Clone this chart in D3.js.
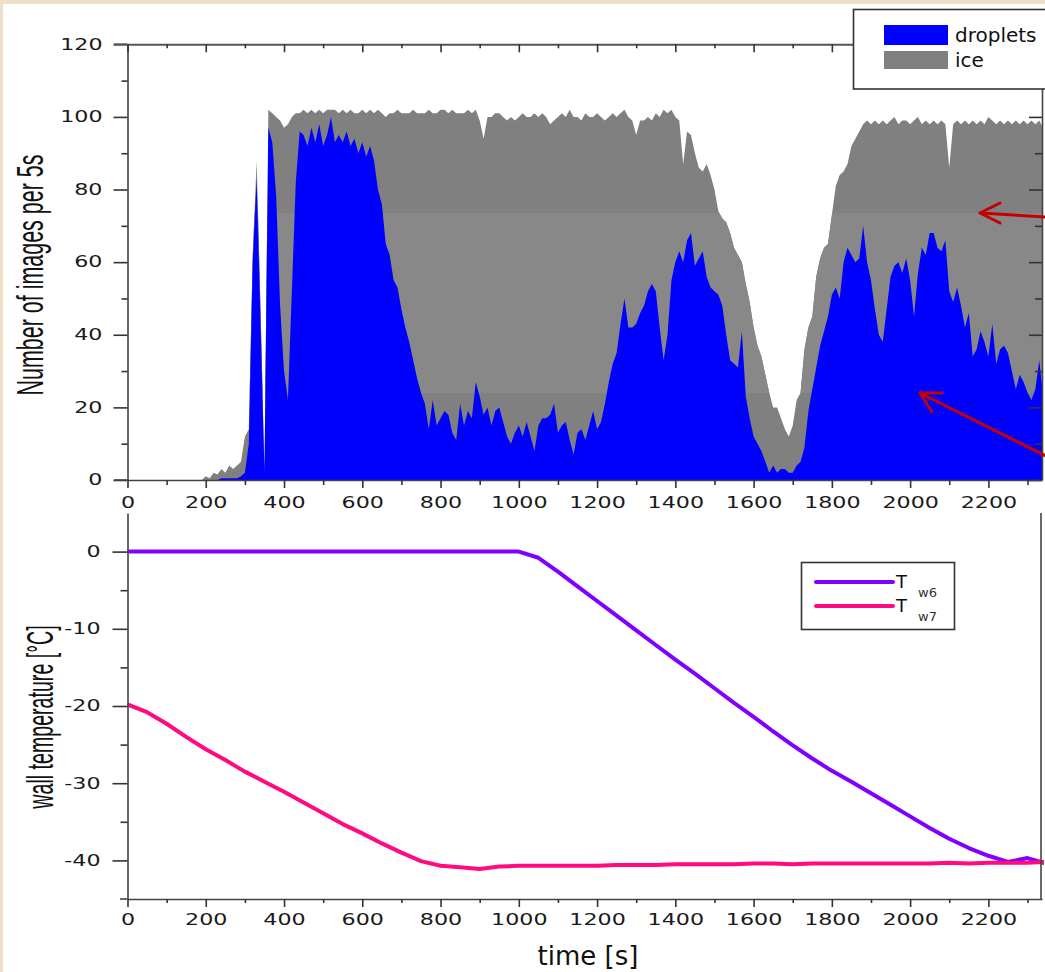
<!DOCTYPE html>
<html><head><meta charset="utf-8">
<script src="https://cdn.jsdelivr.net/npm/d3@7"></script>
<style>
html,body{margin:0;padding:0;background:#fff;}
svg{display:block;}
</style></head><body>
<svg id="c" width="1045" height="972"></svg>
<script>
// ---------------- DATA ----------------
// top panel: images per 5 s, sampled every 10 s from t = 0 s
const sampleStep = 10;
const droplets = [
  0,0,0,0,0,0,0,0,0,0,
  0,0,0,0,0,0,0,0,0,0,
  0,0,0,0,0.5,0.5,0.5,0.5,0.5,1,
  2,10,60,83,43,2,97,93,78,48,
  30,22,52,82,96,95,92,97,93,98,
  92,95,100,93,95,93,96,92,94,90,
  93,89,92,88,80,76,65,62,55,53,
  47,42,38,33,28,24,21,14,22,15,
  17,19,18,13,11,21,15,19,17,27,
  23,18,20,15,19,20,16,12,10,13,
  15,12,16,12,8,15,17,17,18,21,
  13,15,16,11,7,13,14,11,15,19,
  14,16,21,27,32,35,43,50,42,42,
  43,46,48,52,54,52,42,33,40,55,
  60,63,60,66,68,59,61,63,56,53,
  52,51,48,40,33,32,31,41,23,17,
  12,10,8,5,2,4,2,3,3,2,
  2,4,5,9,19,25,31,37,41,45,
  51,53,50,60,64,62,60,61,70,60,
  55,47,40,38,47,56,59,60,57,61,
  55,45,57,64,62,68,68,64,63,66,
  52,49,53,48,42,46,34,36,41,38,
  34,43,32,36,37,35,30,25,29,27,
  24,22,25,33,23
];
// droplets + ice (upper edge of the grey "ice" area)
const totalImages = [
  0,0,0,0,0,0,0,0,0,0,
  0,0,0,0,0,0,0,0,0,0,
  1,0.5,2,1.5,3,2,4,3,4,5,
  12,14,62,88,47,3,102,101,100,99,
  97,98,100,101,101,102,101,102,101,102,
  101,102,102,102,101,102,101,102,101,101,
  102,101,102,101,102,101,100,101,101,102,
  101,101,101,102,101,101,101,102,101,101,
  102,102,101,102,101,101,101,102,101,102,
  99,94,100,100,101,101,100,99,100,99,
  100,101,100,100,101,100,101,100,98,99,
  100,101,100,102,100,100,99,101,100,100,
  101,100,99,100,101,100,101,102,100,99,
  95,99,99,100,99,101,100,102,101,102,
  100,99,87,96,95,90,86,85,87,84,
  80,74,72,71,68,64,62,60,54,49,
  42,37,34,29,24,20,20,17,14,12,
  15,22,24,36,42,45,56,61,64,65,
  73,81,84,85,87,92,94,96,98,99,
  98,99,98,99,98,99,100,98,99,99,
  98,99,100,98,99,98,99,98,99,98,
  86,98,99,98,99,98,99,98,99,98,
  100,99,98,99,98,99,98,99,98,99,
  98,99,98,99,97
];
const seriesNames = ["droplets", "ice"];

// bottom panel: wall temperatures
const tempTimes = [0,50,100,150,200,250,300,350,400,450,500,550,600,650,700,750,800,850,900,950,
  1000,1050,1100,1150,1200,1250,1300,1350,1400,1450,1500,1550,1600,1650,1700,1750,1800,1850,1900,1950,
  2000,2050,2100,2150,2200,2250,2300,2340];
const tw6 = [0,0,0,0,0,0,0,0,0,0,0,0,0,0,0,0,0,0,0,0,
  0,-0.8,-2.6,-4.5,-6.4,-8.3,-10.2,-12.1,-14.0,-15.8,-17.7,-19.6,-21.4,-23.3,-25.1,-26.8,-28.4,-29.8,-31.3,-32.8,
  -34.3,-35.8,-37.2,-38.4,-39.4,-40.2,-39.7,-40.3];
const tw7 = [-19.8,-20.8,-22.3,-24.0,-25.6,-27.0,-28.5,-29.8,-31.1,-32.5,-33.9,-35.3,-36.5,-37.8,-39.0,-40.1,-40.7,-40.9,-41.1,-40.8,
  -40.7,-40.7,-40.7,-40.7,-40.7,-40.6,-40.6,-40.6,-40.5,-40.5,-40.5,-40.5,-40.4,-40.4,-40.5,-40.4,-40.4,-40.4,-40.4,-40.4,
  -40.4,-40.4,-40.3,-40.4,-40.3,-40.3,-40.3,-40.2];

const xMajorTicks = [0,200,400,600,800,1000,1200,1400,1600,1800,2000,2200];
const xMinorTicks = [100,300,500,700,900,1100,1300,1500,1700,1900,2100,2300];
const topYTicks = [0,20,40,60,80,100,120];
const topYMinor = [10,30,50,70,90,110];
const botYTicks = [0,-10,-20,-30,-40];
const botYMinor = [-5,-15,-25,-35];

// ---------------- DRAW ----------------
const svg = d3.select("#c");
svg.append("rect").attr("width",1045).attr("height",972).attr("fill","#ece0c8");
svg.append("rect").attr("x",3).attr("y",4).attr("width",1042).attr("height",968).attr("fill","#fff");

const x = d3.scaleLinear().domain([0,2337]).range([127.5,1042]);
const yTop = d3.scaleLinear().domain([0,120]).range([480,44.3]);
const yBot = d3.scaleLinear().domain([-45,5]).range([899,513]);
const fmt = d => String(d);

const defs = svg.append("defs");
defs.append("clipPath").attr("id","clipTop").append("rect")
  .attr("x",x.range()[0]).attr("y",yTop(120)).attr("width",x.range()[1]-x.range()[0]).attr("height",yTop(0)-yTop(120));
defs.append("clipPath").attr("id","clipBand").append("rect")
  .attr("x",x.range()[0]).attr("y",213).attr("width",x.range()[1]-x.range()[0]).attr("height",180);
defs.append("clipPath").attr("id","clipBot").append("rect")
  .attr("x",x.range()[0]).attr("y",yBot(5)).attr("width",x.range()[1]-x.range()[0]+2).attr("height",yBot(-45)-yBot(5));

const pts = droplets.map((d,i)=>({t:i*sampleStep, d:d, tot:totalImages[i]}));
const areaTot = d3.area().x(p=>x(p.t)).y0(yTop(0)).y1(p=>yTop(p.tot));
const areaDrop = d3.area().x(p=>x(p.t)).y0(yTop(0)).y1(p=>yTop(p.d));

const gTop = svg.append("g").attr("clip-path","url(#clipTop)");
gTop.append("path").attr("d",areaTot(pts)).attr("fill","#808080");
gTop.append("g").attr("clip-path","url(#clipBand)")
  .append("path").attr("d",areaTot(pts)).attr("fill","#888888");
gTop.append("path").attr("d",areaDrop(pts)).attr("fill","#0000ff");

// axis styling helper
const SX = 1.48;
function styleAxis(g, opts){
  g.attr("font-size",15).attr("font-family","DejaVu Sans");
  g.select(".domain").attr("stroke","#444").attr("stroke-width",1.6);
  g.selectAll(".tick line").attr("stroke","#333").attr("stroke-width",1.6);
  g.selectAll("text").attr("font-family","DejaVu Sans").attr("font-size",15).attr("fill","#1a1a1a");
  if(opts && opts.left){
    g.selectAll("text").attr("x", -opts.off/SX).attr("transform",`scale(${SX},1)`);
  }
  if(opts && opts.bottom){
    g.selectAll("text").attr("y", opts.off).attr("transform",`scale(${SX},1)`);
  }
}

// top panel axes
const topLeft = svg.append("g").attr("transform",`translate(${x.range()[0]},0)`)
  .call(d3.axisLeft(yTop).tickValues(topYTicks).tickFormat(fmt).tickSize(14).tickSizeOuter(0));
styleAxis(topLeft,{left:true, off:25});
const topLeftMinor = svg.append("g").attr("transform",`translate(${x.range()[0]},0)`)
  .call(d3.axisLeft(yTop).tickValues(topYMinor).tickSize(6).tickFormat(""));
styleAxis(topLeftMinor); topLeftMinor.select(".domain").remove();

const topRight = svg.append("g").attr("transform",`translate(${x.range()[1]},0)`)
  .call(d3.axisLeft(yTop).tickValues(topYTicks).tickSize(13).tickSizeOuter(0).tickFormat(""));
styleAxis(topRight);
const topRightMinor = svg.append("g").attr("transform",`translate(${x.range()[1]},0)`)
  .call(d3.axisLeft(yTop).tickValues(topYMinor).tickSize(7).tickFormat(""));
styleAxis(topRightMinor); topRightMinor.select(".domain").remove();

const topBottom = svg.append("g").attr("transform",`translate(0,${yTop(0)})`)
  .call(d3.axisBottom(x).tickValues(xMajorTicks).tickFormat(fmt).tickSize(8).tickSizeOuter(0));
styleAxis(topBottom,{bottom:true, off:17});
const topBottomMinor = svg.append("g").attr("transform",`translate(0,${yTop(0)})`)
  .call(d3.axisBottom(x).tickValues(xMinorTicks).tickSize(5).tickFormat(""));
styleAxis(topBottomMinor); topBottomMinor.select(".domain").remove();
svg.append("line").attr("x1",114).attr("x2",x.range()[0]).attr("y1",yTop(0)).attr("y2",yTop(0))
  .attr("stroke","#444").attr("stroke-width",1.6);

const topTop = svg.append("g").attr("transform",`translate(0,${yTop(120)})`)
  .call(d3.axisTop(x).tickValues(xMajorTicks).tickSize(-8).tickSizeOuter(0).tickFormat(""));
styleAxis(topTop); topTop.select(".domain").attr("stroke","#555").attr("stroke-width",2);
const topTopMinor = svg.append("g").attr("transform",`translate(0,${yTop(120)})`)
  .call(d3.axisTop(x).tickValues(xMinorTicks).tickSize(-4).tickFormat(""));
styleAxis(topTopMinor); topTopMinor.select(".domain").remove();
svg.append("line").attr("x1",114).attr("x2",x.range()[0]).attr("y1",yTop(120)).attr("y2",yTop(120))
  .attr("stroke","#555").attr("stroke-width",2);

// bottom panel lines
const gBot = svg.append("g").attr("clip-path","url(#clipBot)");
const line6 = d3.line().x((t,i)=>x(t)).y((t,i)=>yBot(tw6[i])).curve(d3.curveLinear);
const line7 = d3.line().x((t,i)=>x(t)).y((t,i)=>yBot(tw7[i])).curve(d3.curveLinear);
gBot.append("path").attr("d",line6(tempTimes)).attr("fill","none").attr("stroke","#8000ff")
  .attr("stroke-width",4).attr("stroke-linejoin","round").attr("stroke-linecap","round");
gBot.append("path").attr("d",line7(tempTimes)).attr("fill","none").attr("stroke","#ff0a80")
  .attr("stroke-width",4).attr("stroke-linejoin","round").attr("stroke-linecap","round");

// bottom panel axes
const botLeft = svg.append("g").attr("transform",`translate(${x.range()[0]},0)`)
  .call(d3.axisLeft(yBot).tickValues(botYTicks).tickFormat(fmt).tickSize(15).tickSizeOuter(0));
styleAxis(botLeft,{left:true, off:27});
const botLeftMinor = svg.append("g").attr("transform",`translate(${x.range()[0]},0)`)
  .call(d3.axisLeft(yBot).tickValues(botYMinor).tickSize(7).tickFormat(""));
styleAxis(botLeftMinor); botLeftMinor.select(".domain").remove();

const botBottom = svg.append("g").attr("transform",`translate(0,${yBot(-45)})`)
  .call(d3.axisBottom(x).tickValues(xMajorTicks).tickFormat(fmt).tickSize(8).tickSizeOuter(0));
styleAxis(botBottom,{bottom:true, off:15});
const botBottomMinor = svg.append("g").attr("transform",`translate(0,${yBot(-45)})`)
  .call(d3.axisBottom(x).tickValues(xMinorTicks).tickSize(4).tickFormat(""));
styleAxis(botBottomMinor); botBottomMinor.select(".domain").remove();
svg.append("line").attr("x1",120).attr("x2",x.range()[0]).attr("y1",yBot(-45)).attr("y2",yBot(-45))
  .attr("stroke","#444").attr("stroke-width",1.6);
svg.append("line").attr("x1",1041).attr("x2",1041).attr("y1",yBot(5)).attr("y2",yBot(-45))
  .attr("stroke","#444").attr("stroke-width",1.6);

// axis titles
svg.append("text").text("Number of images per 5s")
  .attr("transform","translate(43,275) rotate(-90) scale(0.58,1)")
  .attr("text-anchor","middle").attr("font-family","Liberation Sans").attr("font-size",37).attr("fill","#111");
svg.append("text").text("wall temperature [°C]")
  .attr("transform","translate(53,717) rotate(-90) scale(0.53,1)")
  .attr("text-anchor","middle").attr("font-family","Liberation Sans").attr("font-size",37).attr("fill","#111");
svg.append("text").text("time [s]").attr("x",588).attr("y",965)
  .attr("text-anchor","middle").attr("font-family","DejaVu Sans").attr("font-size",26).attr("fill","#111");

// top legend
const legTop = svg.append("g");
legTop.append("rect").attr("x",853.5).attr("y",9.5).attr("width",200).attr("height",79.5)
  .attr("fill","#fff").attr("stroke","#333").attr("stroke-width",1.6);
const topColors = ["#0000ff","#808080"];
seriesNames.forEach((n,i)=>{
  legTop.append("rect").attr("x",884).attr("y",i?51:25).attr("width",64).attr("height",i?18:20).attr("fill",topColors[i]);
  legTop.append("text").text(n).attr("x",955).attr("y",i?67:42)
    .attr("font-family","DejaVu Sans").attr("font-size",20).attr("fill","#111");
});

// bottom legend
const legBot = svg.append("g");
legBot.append("rect").attr("x",801.5).attr("y",562.5).attr("width",153).attr("height",67)
  .attr("fill","#fff").attr("stroke","#333").attr("stroke-width",1.6);
const botLegend = [{c:"#8000ff", sub:"w6", y:582},{c:"#ff0a80", sub:"w7", y:606}];
botLegend.forEach(d=>{
  legBot.append("line").attr("x1",816).attr("x2",893).attr("y1",d.y).attr("y2",d.y)
    .attr("stroke",d.c).attr("stroke-width",4).attr("stroke-linecap","round");
  const t = legBot.append("text").attr("x",896).attr("y",d.y+6)
    .attr("font-family","DejaVu Sans").attr("font-size",18).attr("fill","#111");
  t.append("tspan").text("T");
  t.append("tspan").text(d.sub).attr("x",918).attr("y",d.y+15).attr("font-size",13).attr("fill","#333");
});

// red arrows
const arrows = svg.append("g").attr("stroke","#c40000").attr("stroke-width",3).attr("fill","none")
  .attr("stroke-linecap","round").attr("stroke-linejoin","round");
arrows.append("path").attr("d","M1046,217 L980,213 M1000,203 L980,213 L1000,223");
arrows.append("path").attr("d","M1046,456 L920,393 M942,393 L920,393 L932,412");
</script>
</body></html>
